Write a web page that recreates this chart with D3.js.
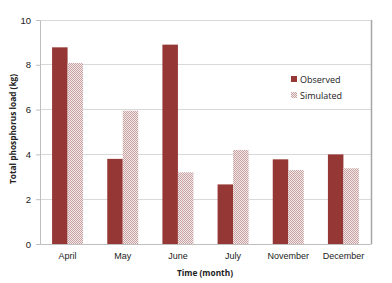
<!DOCTYPE html>
<html><head><meta charset="utf-8">
<script src="https://cdn.jsdelivr.net/npm/d3@7"></script>
<style>body{margin:0;background:#fff;} svg{display:block;font-family:"Open Sans","Noto Sans",sans-serif;}</style>
</head><body>
<script>
const categories = ["April","May","June","July","November","December"];
const observed = [8.78, 3.8, 8.9, 2.66, 3.78, 4.0];
const simulated = [8.08, 5.95, 3.2, 4.2, 3.3, 3.38];
const yTicks = [0,2,4,6,8,10];
const seriesNames = ["Observed","Simulated"];

const W=392,H=283;
const m={left:40,right:21,top:20,bottom:39};
const svg=d3.select("body").append("svg").attr("width",W).attr("height",H);
const defs=svg.append("defs");
const pat=defs.append("pattern").attr("id","chk").attr("patternUnits","userSpaceOnUse").attr("width",2).attr("height",2);
pat.append("rect").attr("width",2).attr("height",2).attr("fill","#f2e8e8");
pat.append("rect").attr("width",1).attr("height",1).attr("fill","#c9a3a3");
pat.append("rect").attr("x",1).attr("y",1).attr("width",1).attr("height",1).attr("fill","#c9a3a3");

const x=d3.scaleBand().domain(categories).range([m.left,W-m.right]);
const y=d3.scaleLinear().domain([0,10]).range([H-m.bottom,m.top]);
const x1=d3.scaleBand().domain(seriesNames).range([0,31]);
const bw=31;

// gridlines
svg.append("g").selectAll("line").data(yTicks.filter(d=>d>0)).join("line")
  .attr("x1",m.left).attr("x2",W-m.right).attr("y1",d=>y(d)).attr("y2",d=>y(d))
  .attr("stroke","#d9d9d9").attr("stroke-width",1).attr("shape-rendering","crispEdges");
// right border
svg.append("line").attr("x1",W-m.right+0.5).attr("x2",W-m.right+0.5).attr("y1",m.top).attr("y2",H-m.bottom)
  .attr("stroke","#a6a6a6").attr("stroke-width",1.5);

// bars
const g=svg.append("g");
categories.forEach((c,i)=>{
  const cx=x(c)+x.bandwidth()/2-bw/2;
  g.append("rect").attr("x",cx+x1("Observed")).attr("width",x1.bandwidth()).attr("y",y(observed[i])).attr("height",y(0)-y(observed[i])).attr("fill","#953735");
  g.append("rect").attr("x",cx+x1("Simulated")).attr("width",x1.bandwidth()).attr("y",y(simulated[i])).attr("height",y(0)-y(simulated[i])).attr("fill","url(#chk)");
});

// y axis
const ya=svg.append("g").attr("transform",`translate(${m.left},0)`).call(d3.axisLeft(y).tickValues(yTicks).tickSize(4).tickPadding(5));
ya.select(".domain").attr("stroke","#bfbfbf");
ya.selectAll(".tick line").attr("stroke","#bfbfbf");
ya.selectAll("text").attr("font-size",9.5).attr("fill","#222");
// x axis
const xa=svg.append("g").attr("transform",`translate(0,${H-m.bottom})`).call(d3.axisBottom(x).tickSize(0).tickPadding(9));
xa.select(".domain").attr("stroke","#bfbfbf");
xa.selectAll("text").attr("font-size",9).attr("fill","#222");

// titles
svg.append("text").attr("x",205).attr("y",276).attr("text-anchor","middle")
  .attr("font-size",8.3).attr("font-weight","bold").attr("fill","#222").text("Time (month)");
svg.append("text").attr("transform",`translate(16,129) rotate(-90)`).attr("text-anchor","middle")
  .attr("font-size",8.3).attr("font-weight","bold").attr("fill","#222").text("Total phosphorus load (kg)");

// legend
const lg=svg.append("g").attr("transform","translate(291,74)");
seriesNames.forEach((s,i)=>{
  lg.append("rect").attr("x",0).attr("y",i*16+2).attr("width",6).attr("height",6).attr("fill",i===0?"#953735":"url(#chk)");
  lg.append("text").attr("x",9).attr("y",i*16+9).attr("font-size",9).attr("fill","#222").text(s);
});
</script>
</body></html>
